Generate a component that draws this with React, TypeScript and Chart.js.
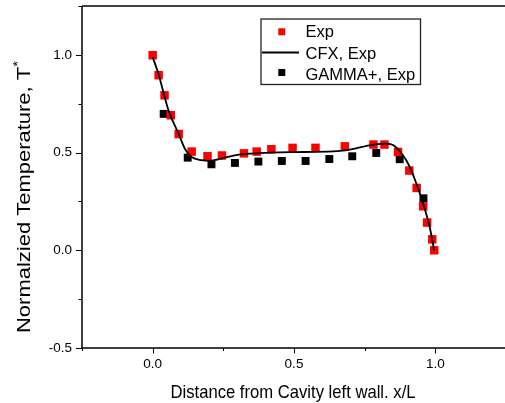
import React, { useEffect, useRef } from "react";
import { Chart, registerables } from "chart.js";
Chart.register(...registerables);

// Experimental data (red squares)
const expX = [0.0, 0.021, 0.042, 0.064, 0.092, 0.138, 0.194, 0.245, 0.323, 0.368, 0.42, 0.495, 0.576, 0.68, 0.781, 0.82, 0.868, 0.908, 0.934, 0.957, 0.971, 0.989, 0.996];
const expY = [0.998, 0.896, 0.793, 0.691, 0.595, 0.505, 0.481, 0.485, 0.496, 0.505, 0.517, 0.524, 0.524, 0.532, 0.541, 0.541, 0.503, 0.408, 0.319, 0.225, 0.142, 0.056, 0.0];
// GAMMA+ (black squares)
const gammaX = [0.039, 0.124, 0.208, 0.291, 0.374, 0.457, 0.541, 0.625, 0.706, 0.791, 0.874, 0.958];
const gammaY = [0.698, 0.474, 0.44, 0.447, 0.454, 0.457, 0.457, 0.467, 0.481, 0.498, 0.466, 0.266];
// CFX (black line)
const cfxX = [0, 0.021, 0.056, 0.091, 0.115, 0.138, 0.173, 0.202, 0.243, 0.29, 0.348, 0.419, 0.536, 0.653, 0.688, 0.781, 0.828, 0.852, 0.881, 0.91, 0.933, 0.957, 0.98, 0.996];
const cfxY = [0.989, 0.9, 0.716, 0.599, 0.517, 0.477, 0.461, 0.457, 0.469, 0.486, 0.495, 0.5, 0.503, 0.507, 0.512, 0.541, 0.546, 0.537, 0.495, 0.426, 0.341, 0.239, 0.119, 0.0];

const legendLabels = ["Exp", "CFX, Exp", "GAMMA+, Exp"];
const xTitle = "Distance from Cavity left wall. x/L";
const yTitle = "Normalzied Temperature, T";
const yTitleSup = "*";

const FONT = '"Liberation Sans", Arial, Helvetica, sans-serif';

const isMajor = (v: number) => Math.abs(v * 2 - Math.round(v * 2)) < 1e-6;

const decor = {
  id: "decor",
  afterDraw(chart: any) {
    const { ctx, chartArea: a, scales } = chart;
    const x = scales.x;
    const y = scales.y;
    ctx.save();
    ctx.strokeStyle = "#000";
    ctx.lineWidth = 1.5;
    ctx.beginPath();
    ctx.moveTo(a.left, a.top);
    ctx.lineTo(a.right, a.top);
    ctx.moveTo(a.left, a.top);
    ctx.lineTo(a.left, a.bottom);
    ctx.lineTo(a.right, a.bottom);
    ctx.stroke();

    ctx.lineWidth = 1;
    y.ticks.forEach((t: any) => {
      const py = Math.round(y.getPixelForValue(t.value)) + 0.5;
      const len = isMajor(t.value) ? 6 : 3.5;
      ctx.beginPath();
      ctx.moveTo(a.left, py);
      ctx.lineTo(a.left - len, py);
      ctx.stroke();
    });
    x.ticks.forEach((t: any) => {
      const px = Math.round(x.getPixelForValue(t.value)) + 0.5;
      const len = isMajor(t.value) ? 5.5 : 3;
      ctx.beginPath();
      ctx.moveTo(px, a.bottom);
      ctx.lineTo(px, a.bottom + len);
      ctx.stroke();
    });

    // Axis titles
    ctx.fillStyle = "#000";
    ctx.save();
    ctx.font = `19px ${FONT}`;
    const wx = ctx.measureText(xTitle).width;
    const sx = 245 / wx;
    ctx.translate((a.left + a.right) / 2 - 1, 397.5);
    ctx.scale(sx, 1);
    ctx.textAlign = "center";
    ctx.textBaseline = "alphabetic";
    ctx.fillText(xTitle, 0, 0);
    ctx.restore();

    ctx.save();
    ctx.font = `19px ${FONT}`;
    const wMain = ctx.measureText(yTitle).width;
    ctx.font = `13px ${FONT}`;
    const wSup = ctx.measureText(yTitleSup).width;
    const total = wMain + wSup;
    const sy = 272 / total;
    ctx.translate(29.5, (a.top + a.bottom) / 2 + 20);
    ctx.rotate(-Math.PI / 2);
    ctx.scale(sy, 1);
    ctx.textAlign = "left";
    ctx.textBaseline = "alphabetic";
    ctx.font = `19px ${FONT}`;
    ctx.fillText(yTitle, -total / 2, 0);
    ctx.font = `13px ${FONT}`;
    ctx.fillText(yTitleSup, -total / 2 + wMain, -8);
    ctx.restore();

    // Legend
    const ds = chart.data.datasets;
    const bx = 261, by = 19, bw = 159.5, bh = 65.5;
    ctx.fillStyle = "#fff";
    ctx.fillRect(bx, by, bw, bh);
    ctx.lineWidth = 1.3;
    ctx.strokeStyle = "#222";
    ctx.strokeRect(bx, by, bw, bh);
    ctx.font = `16.5px ${FONT}`;
    ctx.textAlign = "left";
    ctx.textBaseline = "alphabetic";
    const rows = [37.3, 58.8, 80.2];
    ctx.fillStyle = ds[1].backgroundColor;
    ctx.fillRect(278.3, 28.3, 7, 7);
    ctx.fillStyle = "#000";
    ctx.fillText(legendLabels[0], 305.5, rows[0]);
    ctx.strokeStyle = ds[0].borderColor;
    ctx.lineWidth = ds[0].borderWidth;
    ctx.beginPath();
    ctx.moveTo(262, 52.5);
    ctx.lineTo(299, 52.5);
    ctx.stroke();
    ctx.fillText(legendLabels[1], 305.5, rows[1]);
    ctx.fillStyle = ds[2].backgroundColor;
    ctx.fillRect(278.3, 69, 7, 7);
    ctx.fillStyle = "#000";
    ctx.fillText(legendLabels[2], 305.5, rows[2]);
    ctx.restore();
  },
};

export default function App() {
  const ref = useRef<HTMLCanvasElement>(null);
  useEffect(() => {
    if (!ref.current) return;
    const chart = new Chart(ref.current, {
      type: "scatter",
      data: {
        datasets: [
          {
            label: legendLabels[1],
            data: cfxX.map((v, i) => ({ x: v, y: cfxY[i] })),
            showLine: true,
            borderColor: "#000",
            backgroundColor: "#000",
            borderWidth: 1.8,
            pointRadius: 0,
            cubicInterpolationMode: "monotone",
            order: 0,
          } as any,
          {
            label: legendLabels[0],
            data: expX.map((v, i) => ({ x: v, y: expY[i] })),
            pointStyle: "rect",
            pointRadius: 6,
            backgroundColor: "#ff0000",
            borderColor: "#ff0000",
            borderWidth: 0,
            order: 1,
          },
          {
            label: legendLabels[2],
            data: gammaX.map((v, i) => ({ x: v, y: gammaY[i] })),
            pointStyle: "rect",
            pointRadius: 5.6,
            backgroundColor: "#000000",
            borderColor: "#000000",
            borderWidth: 0,
            order: 2,
          },
        ],
      },
      options: {
        responsive: false,
        animation: false,
        devicePixelRatio: 1,
        layout: { padding: { left: 0, top: 6, right: 2, bottom: 0 } },
        plugins: { legend: { display: false }, tooltip: { enabled: false } },
        scales: {
          x: {
            type: "linear",
            min: -0.25,
            max: 1.25,
            grid: { display: false, drawTicks: false },
            border: { display: false },
            ticks: {
              stepSize: 0.25,
              padding: 8,
              color: "#000",
              font: { family: FONT, size: 13.5 },
              maxRotation: 0,
              autoSkip: false,
              callback: (v: any) => (isMajor(Number(v)) ? Number(v).toFixed(1) : ""),
            },
            afterFit: (s: any) => {
              s.height = 55;
              s.paddingLeft = 0;
              s.paddingRight = 0;
            },
          },
          y: {
            type: "linear",
            min: -0.5,
            max: 1.25,
            grid: { display: false, drawTicks: false },
            border: { display: false },
            ticks: {
              stepSize: 0.25,
              padding: 10,
              color: "#000",
              font: { family: FONT, size: 13.5 },
              autoSkip: false,
              callback: (v: any) => (isMajor(Number(v)) ? Number(v).toFixed(1) : ""),
            },
            afterFit: (s: any) => {
              s.width = 82;
              s.paddingTop = 0;
              s.paddingBottom = 0;
            },
          },
        },
      },
      plugins: [decor],
    });
    return () => chart.destroy();
  }, []);
  return (
    <div
      style={{
        position: "fixed",
        left: 0,
        top: 0,
        width: 505,
        height: 403,
        overflow: "hidden",
        background: "#fff",
      }}
    >
      <canvas ref={ref} width={512} height={403} style={{ display: "block" }} />
    </div>
  );
}
